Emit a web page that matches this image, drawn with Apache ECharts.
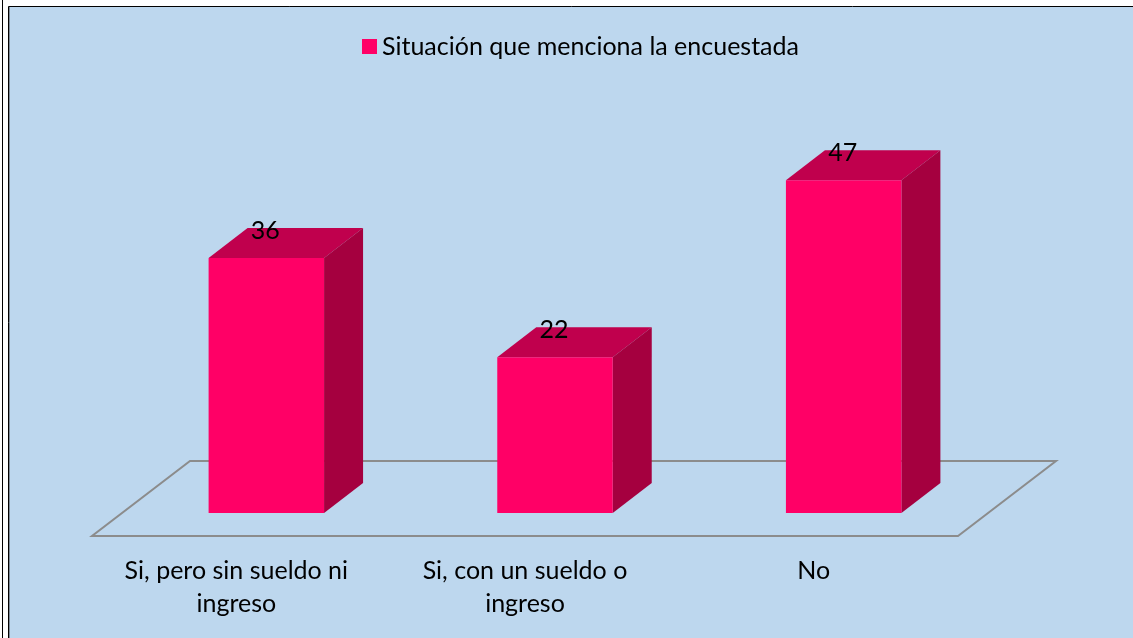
<!DOCTYPE html>
<html><head><meta charset="utf-8">
<style>html,body{margin:0;padding:0;background:#fff}#c{width:1133px;height:638px}</style>
<script src="https://cdn.jsdelivr.net/npm/echarts@6/dist/echarts.min.js"></script>
</head><body><div id="c"></div>
<script>
const categories = ['Si, pero sin sueldo ni\ningreso', 'Si, con un sueldo o\ningreso', 'No'];
const values = [36, 22, 47];
const seriesName = 'Situación que menciona la encuestada';
const FONT = 'Lato, Carlito, sans-serif';
const FRONT = '#FF0066', TOP = '#C0004D', SIDE = '#A5003F', FLOOR = '#8C8C8C';
const chart = echarts.init(document.getElementById('c'), null, {renderer: 'canvas'});
chart.setOption({
  animation: false,
  backgroundColor: '#fff',
  graphic: [
    {type: 'line', z: -10, shape: {x1: 2.5, y1: 0, x2: 2.5, y2: 638}, style: {stroke: '#000', lineWidth: 1}},
    {type: 'rect', z: -10, shape: {x: 8.5, y: 6.5, width: 1130, height: 640}, style: {fill: '#BDD7EE', stroke: '#000', lineWidth: 1}},
    {type: 'line', z: -9, shape: {x1: 9.5, y1: 7, x2: 9.5, y2: 638}, style: {stroke: '#7F8C99', lineWidth: 1}}
  ],
  legend: {
    show: true, left: 357, top: 29, itemWidth: 15, itemHeight: 15, itemGap: 7,
    textStyle: {fontFamily: FONT, fontSize: 25, color: '#000'},
    data: [{name: seriesName, icon: 'rect'}]
  },
  grid: {left: 92, width: 866, top: 159, bottom: 125},
  xAxis: {
    type: 'category', data: categories,
    axisLine: {show: false}, axisTick: {show: false},
    axisLabel: {margin: 41, fontFamily: FONT, fontSize: 25, lineHeight: 33, color: '#000', interval: 0}
  },
  yAxis: {type: 'value', min: 0, max: 50, show: false, splitLine: {show: false}},
  series: [{
    type: 'custom', name: seriesName, coordinateSystem: 'cartesian2d',
    itemStyle: {color: FRONT},
    encode: {x: 0, y: 1},
    data: values.map((v, i) => [i, v]),
    clip: false,
    renderItem: function (params, api) {
      const base = api.coord([api.value(0), 0]);
      const topPt = api.coord([api.value(0), api.value(1)]);
      const band = api.size([1, 0])[0];
      const w = band * 0.4, dx = 39, dy = 30;
      const cx = base[0] + 30;
      const l = cx - w / 2, r = cx + w / 2, b = base[1], t = topPt[1];
      const children = [];
      if (params.dataIndex === 0) {
        const fy = b + 23, by = b - 52;
        const fl = base[0] - band / 2, fr = base[0] + band * 2.5;
        children.push({type: 'polygon', z2: 0, shape: {points: [[fl, fy], [fr, fy], [fr + 98, by], [fl + 98, by]]},
          style: {fill: 'none', stroke: FLOOR, lineWidth: 2}});
      }
      children.push(
        {type: 'polygon', z2: 5, shape: {points: [[l, t], [r, t], [r + dx, t - dy], [l + dx, t - dy]]}, style: {fill: TOP}},
        {type: 'polygon', z2: 5, shape: {points: [[r, t], [r + dx, t - dy], [r + dx, b - dy], [r, b]]}, style: {fill: SIDE}},
        {type: 'rect', z2: 5, shape: {x: l, y: t, width: w, height: b - t}, style: {fill: FRONT}},
        {type: 'text', z2: 10, style: {x: cx - 1, y: t - 27, text: String(api.value(1)), align: 'center', verticalAlign: 'middle',
          fontFamily: FONT, fontSize: 25, fill: '#000'}}
      );
      return {type: 'group', children};
    }
  }]
});
</script></body></html>
